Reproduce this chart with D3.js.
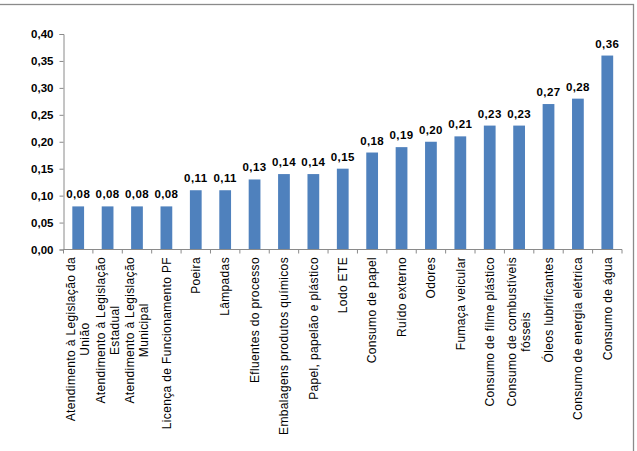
<!DOCTYPE html>
<html>
<head>
<meta charset="utf-8">
<script src="https://cdn.jsdelivr.net/npm/d3@7"></script>
<style>
  html, body { margin: 0; padding: 0; background: #fff; }
  svg { display: block; font-family: "Liberation Sans", Arial, sans-serif; }
</style>
</head>
<body>
<svg id="chart" width="637" height="451"></svg>
<script>
const categories = [
  ["Atendimento à Legislação da", "União"],
  ["Atendimento à Legislação", "Estadual"],
  ["Atendimento à Legislação", "Municipal"],
  ["Licença de Funcionamento PF"],
  ["Poeira"],
  ["Lâmpadas"],
  ["Efluentes do processo"],
  ["Embalagens produtos químicos"],
  ["Papel, papelão e plástico"],
  ["Lodo ETE"],
  ["Consumo de papel"],
  ["Ruído externo"],
  ["Odores"],
  ["Fumaça veicular"],
  ["Consumo de filme plástico"],
  ["Consumo de combustíveis", "fósseis"],
  ["Óleos lubrificantes"],
  ["Consumo de energia elétrica"],
  ["Consumo de água"]
];
const values = [0.08, 0.08, 0.08, 0.08, 0.11, 0.11, 0.13, 0.14, 0.14, 0.15,
                0.18, 0.19, 0.20, 0.21, 0.23, 0.23, 0.27, 0.28, 0.36];
const yTicks = [0, 0.05, 0.10, 0.15, 0.20, 0.25, 0.30, 0.35, 0.40];

const svg = d3.select("#chart");
const mLeft = 63.5, mRight = 622, mTop = 34, mBottom = 249.5;
const fmt = v => d3.format(".2f")(v).replace(".", ",");

// outer frame
svg.append("rect")
  .attr("x", -2).attr("y", 4.5).attr("width", 635.5).attr("height", 460)
  .attr("fill", "none").attr("stroke", "#8a8a8a").attr("stroke-width", 1.3);

const idx = categories.map((d, i) => i);
const x = d3.scaleBand().domain(idx).range([mLeft, mRight])
  .paddingInner(0.6).paddingOuter(0.3);
const y = d3.scaleLinear().domain([0, 0.40]).range([mBottom, mTop]);

// y axis
const yAxis = svg.append("g")
  .attr("transform", `translate(${mLeft},0)`)
  .call(d3.axisLeft(y).tickValues(yTicks).tickFormat(fmt).tickSize(4).tickPadding(6));
yAxis.select(".domain").attr("stroke", "#8a8a8a");
yAxis.selectAll(".tick line").attr("stroke", "#8a8a8a");
yAxis.selectAll(".tick text")
  .attr("fill", "#000").attr("font-size", "11.5px").attr("font-weight", "bold")
  .attr("font-family", "'Liberation Sans', Arial, sans-serif");

// bars
svg.append("g").selectAll("rect").data(values).join("rect")
  .attr("x", (d, i) => x(i))
  .attr("width", x.bandwidth())
  .attr("y", d => y(d))
  .attr("height", d => y(0) - y(d))
  .attr("fill", "#4f81bd");

// x axis line and boundary ticks
svg.append("line")
  .attr("x1", mLeft).attr("x2", mRight).attr("y1", y(0)).attr("y2", y(0))
  .attr("stroke", "#8a8a8a");
const bounds = idx.map(i => x(i) - x.step() * 0.3).concat([mRight]);
svg.append("g").selectAll("line").data(bounds).join("line")
  .attr("x1", d => d).attr("x2", d => d)
  .attr("y1", y(0)).attr("y2", y(0) + 4)
  .attr("stroke", "#8a8a8a");

// value labels
svg.append("g").selectAll("text").data(values).join("text")
  .attr("x", (d, i) => x(i) + x.bandwidth() / 2)
  .attr("y", d => y(d) - 8)
  .attr("text-anchor", "middle")
  .attr("font-size", "11.5px").attr("font-weight", "bold")
  .attr("letter-spacing", "0.4px")
  .attr("fill", "#000")
  .text(d => fmt(d));

// category labels (rotated, centered multi-line)
const labG = svg.append("g");
categories.forEach((lines, i) => {
  const cx = x(i) + x.bandwidth() / 2;
  const g = labG.append("g").attr("transform", `translate(${cx},257) rotate(-90)`);
  const n = lines.length;
  const texts = lines.map((ln, j) => g.append("text")
    .attr("y", (j - (n - 1) / 2) * 14)
    .attr("dy", "0.35em")
    .attr("font-size", "12px")
    .attr("letter-spacing", "0.35px")
    .attr("fill", "#000")
    .text(ln));
  const lens = texts.map(t => t.node().getComputedTextLength());
  const maxLen = d3.max(lens);
  texts.forEach(t => t.attr("text-anchor", "middle").attr("x", -maxLen / 2));
});
</script>
</body>
</html>
